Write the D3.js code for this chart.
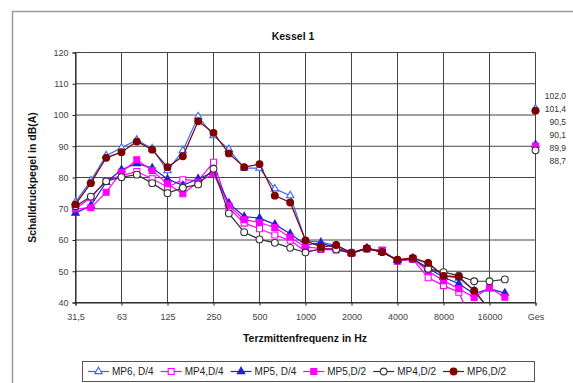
<!DOCTYPE html>
<html>
<head>
<meta charset="utf-8">
<script src="https://cdn.jsdelivr.net/npm/d3@7"></script>
<style>
  html, body { margin: 0; padding: 0; background: #fff; }
  svg { display: block; font-family: "Liberation Sans", Arial, sans-serif; }
</style>
</head>
<body>
<svg id="chart" width="573" height="383"></svg>
<script>
// Third-octave band centre frequencies, then a spacer and the overall level
const bands = ["31,5","40","50","63","80","100","125","160","200","250","315","400","500",
  "630","800","1000","1250","1600","2000","2500","3150","4000","5000","6300","8000",
  "10000","12500","16000","20000"];
const categories = bands.concat([" ", "Ges"]);
const xTickLabels = ["31,5","63","125","250","500","1000","2000","4000","8000","16000","Ges"];
const yTicks = [40, 50, 60, 70, 80, 90, 100, 110, 120];

const seriesNames = ["MP6, D/4", "MP4,D/4", "MP5, D/4", "MP5,D/2", "MP4,D/2", "MP6,D/2"];

// Sound pressure level per band in dB(A); null = not shown
const mp6d4 = [72.1, 79.0, 87.0, 89.5, 92.0, 89.2, 82.2, 88.6, 99.5, 93.4, 89.0, 83.0, 83.0,
  76.4, 74.2, 59.8, 59.3, 58.2, 55.9, 57.4, 56.1, 53.6, 54.2, 52.4, 48.6, 47.8, 43.8, 38.0, null];
const mp4d4 = [70.0, 73.5, 79.0, 80.6, 81.9, 79.6, 76.9, 79.3, 79.0, 84.9, 70.3, 65.4, 63.6,
  61.6, 59.9, 56.3, 57.0, 56.8, 55.8, 57.2, 56.6, 53.3, 53.8, 47.9, 45.4, 43.3, 32.0, null, null];
const mp5d4 = [68.6, 71.0, 78.5, 82.5, 84.5, 83.0, 79.5, 77.5, 79.6, 81.7, 71.8, 67.5, 67.0,
  65.0, 62.0, 58.5, 59.0, 57.5, 55.9, 57.3, 56.2, 53.5, 54.0, 51.0, 48.1, 46.0, 42.8, 44.4, 43.0];
const mp5d2 = [70.0, 70.3, 75.3, 81.7, 85.7, 82.2, 78.0, 74.8, 78.5, 81.2, 71.0, 66.5, 65.6,
  64.0, 60.9, 57.7, 57.3, 57.2, 55.8, 57.2, 56.8, 53.2, 54.0, 50.0, 47.0, 44.4, 41.6, 44.7, 41.7];
const mp4d2 = [70.8, 73.9, 78.8, 80.1, 80.9, 78.2, 75.0, 76.7, 77.8, 82.8, 68.5, 62.5, 60.2,
  59.1, 57.5, 56.0, 57.2, 57.0, 55.8, 57.2, 56.1, 53.5, 54.0, 50.8, 49.7, 48.6, 46.8, 46.8, 47.4];
const mp6d2 = [71.4, 78.2, 86.3, 88.1, 91.5, 88.9, 83.3, 86.8, 98.0, 94.3, 87.7, 83.3, 84.3,
  74.2, 72.0, 59.9, 57.7, 58.4, 55.9, 57.4, 56.1, 53.7, 54.3, 52.7, 48.5, 48.3, 43.8, 37.5, null];

// Overall level ("Ges") per series, same order as seriesNames
const totals = [102.0, 89.9, 90.5, 90.1, 88.7, 101.4];

const bandValues = [mp6d4, mp4d4, mp5d4, mp5d2, mp4d2, mp6d2];

// Line colour, marker shape and marker fill per series
const styles = [
  { color: "#3366FF", shape: "triangle", fill: "#ffffff" },
  { color: "#FF00FF", shape: "square",   fill: "#ffffff" },
  { color: "#2222CC", shape: "triangle", fill: "#2222CC" },
  { color: "#FF00FF", shape: "square",   fill: "#FF00FF" },
  { color: "#333333", shape: "circle",   fill: "#ffffff" },
  { color: "#800000", shape: "circle",   fill: "#800000" }
];

const svg = d3.select("#chart");
const plot = { left: 75.5, right: 535.5, top: 52.5, bottom: 302.5 };

// Outer chart frame
svg.append("rect")
  .attr("x", 12.5).attr("y", 11.5).attr("width", 620).attr("height", 420)
  .attr("fill", "#fff").attr("stroke", "#9a9a9a").attr("stroke-width", 1.5);

const x = d3.scalePoint().domain(categories).range([plot.left, plot.right]).padding(0);
const y = d3.scaleLinear().domain([40, 120]).range([plot.bottom, plot.top]);

// Title
svg.append("text")
  .attr("x", 293).attr("y", 40)
  .attr("text-anchor", "middle")
  .attr("font-size", 10.5).attr("font-weight", "bold").attr("fill", "#111")
  .text("Kessel 1");

// Grid
const grid = svg.append("g").attr("stroke", "#454545").attr("stroke-width", 1);
grid.selectAll("line.h").data(yTicks).join("line")
  .attr("x1", plot.left).attr("x2", plot.right)
  .attr("y1", d => y(d)).attr("y2", d => y(d));
grid.selectAll("line.v").data(xTickLabels).join("line")
  .attr("x1", d => x(d)).attr("x2", d => x(d))
  .attr("y1", plot.top).attr("y2", plot.bottom);

// Axes
const yAxis = svg.append("g")
  .attr("transform", `translate(${plot.left},0)`)
  .call(d3.axisLeft(y).tickValues(yTicks).tickSize(3).tickPadding(4));
const xAxis = svg.append("g")
  .attr("transform", `translate(0,${plot.bottom})`)
  .call(d3.axisBottom(x).tickValues(xTickLabels).tickSize(3).tickPadding(8));
[yAxis, xAxis].forEach(a => {
  a.select(".domain").attr("stroke", "#222");
  a.selectAll(".tick line").attr("stroke", "#222");
  a.selectAll(".tick text").attr("font-size", 9).attr("fill", "#444")
    .attr("font-family", "Liberation Sans, Arial, sans-serif");
});

// Axis titles
svg.append("text")
  .attr("x", 305).attr("y", 342)
  .attr("text-anchor", "middle")
  .attr("font-size", 10.5).attr("font-weight", "bold").attr("fill", "#111")
  .text("Terzmittenfrequenz in Hz");
svg.append("text")
  .attr("transform", `translate(36,${(plot.top + plot.bottom) / 2}) rotate(-90)`)
  .attr("text-anchor", "middle")
  .attr("font-size", 10.5).attr("font-weight", "bold").attr("fill", "#111")
  .text("Schalldruckpegel in dB(A)");

// Clip the curves to the plotting area
svg.append("defs").append("clipPath").attr("id", "plotClip")
  .append("rect")
  .attr("x", plot.left - 5).attr("y", plot.top - 5)
  .attr("width", plot.right - plot.left + 10).attr("height", plot.bottom - plot.top + 5);

const symbolType = { triangle: d3.symbolTriangle, square: d3.symbolSquare, circle: d3.symbolCircle };
const symbolSize = { triangle: 24, square: 36, circle: 36 };

function drawMarker(sel, st) {
  sel.attr("d", d3.symbol().type(symbolType[st.shape]).size(symbolSize[st.shape])())
    .attr("fill", st.fill)
    .attr("stroke", st.color)
    .attr("stroke-width", 1.1);
}

const line = d3.line()
  .defined(d => d.v !== null)
  .x(d => x(d.c))
  .y(d => y(d.v));

const curves = svg.append("g").attr("clip-path", "url(#plotClip)");

bandValues.forEach((vals, si) => {
  const st = styles[si];
  const pts = vals.map((v, i) => ({ c: bands[i], v }));
  const g = curves.append("g");
  g.append("path")
    .datum(pts)
    .attr("d", line)
    .attr("fill", "none")
    .attr("stroke", st.color)
    .attr("stroke-width", 1.2);
  const shown = pts.filter(d => d.v !== null && d.v >= 40)
    .concat([{ c: "Ges", v: totals[si] }]);
  g.selectAll("path.m").data(shown).join("path")
    .attr("class", "m")
    .attr("transform", d => `translate(${x(d.c)},${y(d.v)})`)
    .call(drawMarker, st);
});

// Overall-level values, stacked to the right of the "Ges" column
const fmt = d3.format(".1f");
const sortedTotals = totals.slice().sort((a, b) => b - a);
const labelTop = y(sortedTotals[0]) - 13;
svg.append("g").selectAll("text").data(sortedTotals).join("text")
  .attr("x", 566)
  .attr("y", (d, i) => labelTop + i * 13 + 3)
  .attr("text-anchor", "end")
  .attr("font-size", 8.5).attr("fill", "#333")
  .text(d => fmt(d).replace(".", ","));

// Legend
const legend = svg.append("g");
legend.append("rect")
  .attr("x", 82.5).attr("y", 361.5).attr("width", 452).attr("height", 20)
  .attr("fill", "#fff").attr("stroke", "#555").attr("stroke-width", 1);
let lx = 88;
const ly = 371.5;
seriesNames.forEach((name, si) => {
  const st = styles[si];
  const e = legend.append("g");
  e.append("line")
    .attr("x1", lx).attr("x2", lx + 21).attr("y1", ly).attr("y2", ly)
    .attr("stroke", st.color).attr("stroke-width", 1.2);
  e.append("path")
    .attr("transform", `translate(${lx + 10.5},${ly})`)
    .call(drawMarker, st);
  const t = e.append("text")
    .attr("x", lx + 24).attr("y", ly + 3.5)
    .attr("font-size", 10).attr("fill", "#222")
    .text(name);
  lx += 24 + t.node().getComputedTextLength() + 7;
});
</script>
</body>
</html>
